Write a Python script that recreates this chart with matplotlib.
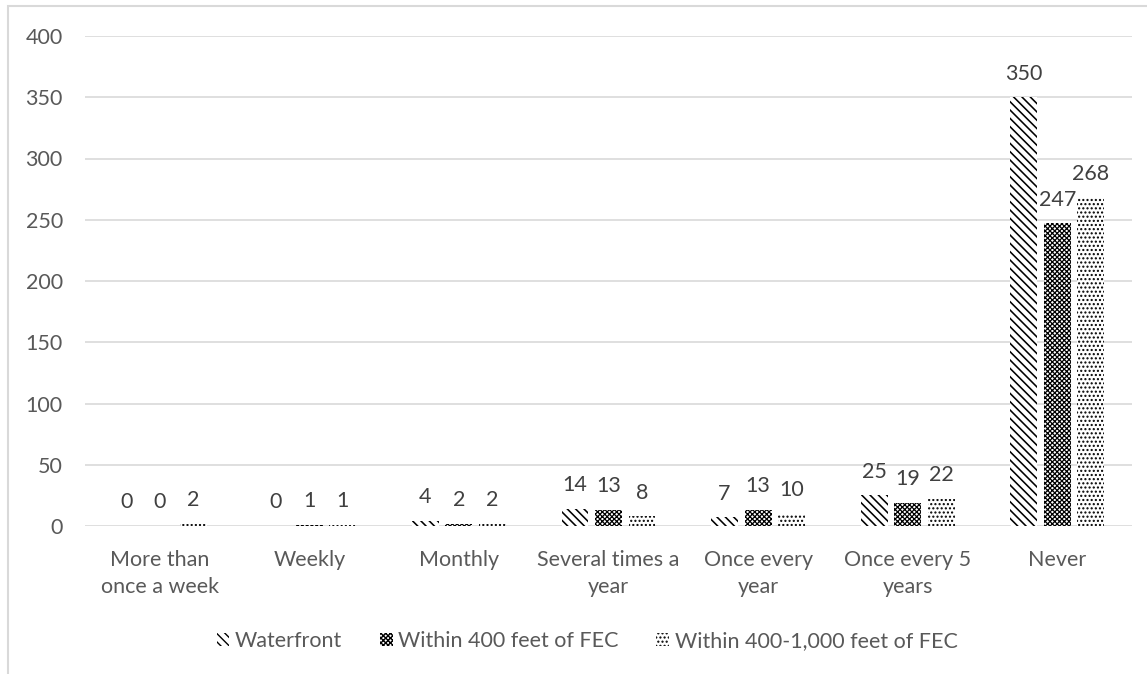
import numpy as np
import matplotlib.pyplot as plt
from matplotlib.patches import Rectangle

plt.rcParams["font.family"] = ["Lato", "DejaVu Sans"]

# 응답 빈도별 분포
categories = [
    "More than\nonce a week",
    "Weekly",
    "Monthly",
    "Several times a\nyear",
    "Once every\nyear",
    "Once every 5\nyears",
    "Never",
]
series_names = ["Waterfront", "Within 400 feet of FEC", "Within 400-1,000 feet of FEC"]
waterfront = [0, 0, 4, 14, 7, 25, 350]
within_400 = [0, 1, 2, 13, 13, 19, 247]
within_400_1000 = [2, 1, 2, 8, 10, 22, 268]
y_ticks = [0, 50, 100, 150, 200, 250, 300, 350, 400]

# 시리즈별 패턴 (hatch, 선 굵기)
hatches = [("\\\\\\\\", 1.15), ("xxxxxxx", 0.9), ("....", 1.0)]
text_color = "#595959"
grid_color = "#d9d9d9"
fs = 15.5

fig = plt.figure(figsize=(11.47, 6.74), dpi=100)
ax = fig.add_axes([85 / 1147, 148 / 674, 1047 / 1147, 490 / 674])

# 바깥 테두리
fig.patches.append(Rectangle((8 / 1147, -0.1), 1.2, 0.1 + 668 / 674,
                             transform=fig.transFigure, fill=False,
                             edgecolor=grid_color, linewidth=1.5))

x = np.arange(len(categories))
step = 0.224
width = 0.18
for i, (name, vals, (h, hlw)) in enumerate(zip(series_names,
                                               [waterfront, within_400, within_400_1000],
                                               hatches)):
    plt.rcParams["hatch.linewidth"] = hlw
    bars = ax.bar(x + (i - 1) * step, vals, width, label=name,
                  color="white", edgecolor="black", linewidth=0, hatch=h)
    for b, v in zip(bars, vals):
        ax.annotate(str(v), (b.get_x() + b.get_width() / 2, v),
                    xytext=(0, 17), textcoords="offset points",
                    ha="center", va="center", fontsize=fs, color="#404040")

ax.set_xlim(-0.5, len(categories) - 0.5)
ax.set_ylim(0, 400)
ax.set_yticks(y_ticks)
ax.set_xticks(x)
ax.set_xticklabels(categories, linespacing=1.45)
ax.tick_params(axis="both", length=0, labelsize=fs, labelcolor=text_color)
ax.tick_params(axis="y", pad=16)
ax.tick_params(axis="x", pad=17)
ax.grid(axis="y", color=grid_color, linewidth=1.2)
ax.set_axisbelow(True)
for s in ax.spines.values():
    s.set_visible(False)

leg = ax.legend(loc="center", bbox_to_anchor=(502 / 1047, -0.235), ncol=3,
                frameon=False, fontsize=fs, labelcolor=text_color,
                handlelength=0.6, handleheight=0.6, handletextpad=0.25,
                columnspacing=1.75)

plt.savefig("out.png", dpi=100)
